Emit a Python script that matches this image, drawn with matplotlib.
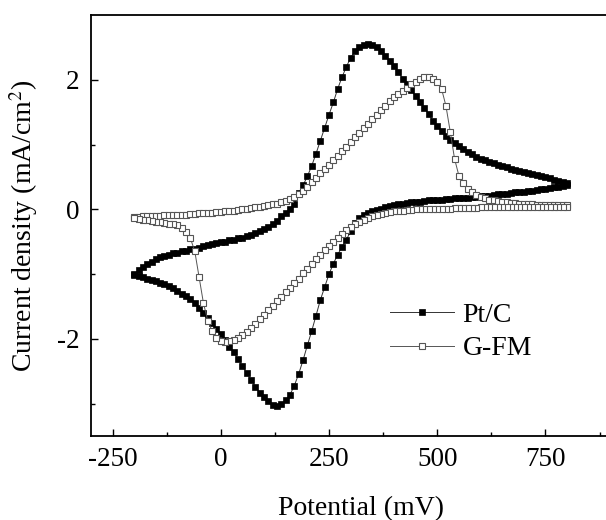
import matplotlib
matplotlib.use("Agg")
import matplotlib.pyplot as plt

plt.rcParams['font.family'] = ['Liberation Serif', 'DejaVu Serif']
plt.rcParams['mathtext.fontset'] = 'stix'
plt.rcParams['axes.unicode_minus'] = False

# sweep potentials (mV), -200 -> 800; the return sweep runs the same list backwards
potential = [-200, -190, -180, -170, -160, -150, -140, -130, -120, -110,
             -100, -90, -80, -70, -60, -50, -40, -30, -20, -10,
             0, 10, 20, 30, 40, 50, 60, 70, 80, 90,
             100, 110, 120, 130, 140, 150, 160, 170, 180, 190,
             200, 210, 220, 230, 240, 250, 260, 270, 280, 290,
             300, 310, 320, 330, 340, 350, 360, 370, 380, 390,
             400, 410, 420, 430, 440, 450, 460, 470, 480, 490,
             500, 510, 520, 530, 540, 550, 560, 570, 580, 590,
             600, 610, 620, 630, 640, 650, 660, 670, 680, 690,
             700, 710, 720, 730, 740, 750, 760, 770, 780, 790, 800]

# Pt/C, forward sweep (-200 -> 800)
ptc_fwd = [-1.00, -0.94, -0.89, -0.85, -0.81, -0.77, -0.74, -0.72, -0.70, -0.68,
           -0.67, -0.65, -0.64, -0.62, -0.61, -0.59, -0.57, -0.55, -0.54, -0.52,
           -0.51, -0.50, -0.48, -0.47, -0.45, -0.44, -0.41, -0.39, -0.36, -0.34,
           -0.30, -0.27, -0.22, -0.18, -0.11, -0.06, 0.01, 0.09, 0.25, 0.37,
           0.51, 0.67, 0.86, 1.06, 1.26, 1.46, 1.65, 1.86, 2.04, 2.20,
           2.34, 2.44, 2.51, 2.54, 2.55, 2.54, 2.51, 2.45, 2.37, 2.29,
           2.21, 2.12, 2.02, 1.93, 1.84, 1.75, 1.66, 1.57, 1.47, 1.37,
           1.29, 1.21, 1.13, 1.07, 1.02, 0.98, 0.93, 0.89, 0.85, 0.81,
           0.78, 0.76, 0.73, 0.71, 0.69, 0.67, 0.65, 0.63, 0.61, 0.59,
           0.57, 0.56, 0.54, 0.53, 0.51, 0.50, 0.48, 0.46, 0.44, 0.42, 0.40]

# Pt/C, reverse sweep (800 -> -200)
ptc_rev = [0.38, 0.36, 0.35, 0.34, 0.33, 0.32, 0.31, 0.30, 0.29, 0.28,
           0.27, 0.27, 0.26, 0.25, 0.24, 0.24, 0.23, 0.22, 0.21, 0.21,
           0.20, 0.19, 0.19, 0.18, 0.18, 0.17, 0.17, 0.16, 0.16, 0.15,
           0.15, 0.14, 0.14, 0.13, 0.12, 0.12, 0.11, 0.10, 0.09, 0.08,
           0.07, 0.05, 0.03, 0.01, -0.01, -0.03, -0.06, -0.09, -0.13, -0.21,
           -0.34, -0.47, -0.58, -0.70, -0.84, -1.00, -1.20, -1.40, -1.64, -1.88,
           -2.10, -2.33, -2.54, -2.72, -2.86, -2.95, -3.01, -3.03, -3.02, -2.96,
           -2.90, -2.83, -2.74, -2.63, -2.53, -2.42, -2.31, -2.21, -2.13, -2.02,
           -1.92, -1.84, -1.76, -1.68, -1.60, -1.52, -1.45, -1.39, -1.34, -1.30,
           -1.26, -1.22, -1.19, -1.16, -1.13, -1.11, -1.09, -1.07, -1.05, -1.03, -1.01]

# G-FM, forward sweep (-200 -> 800)
gfm_fwd = [-0.12, -0.12, -0.11, -0.11, -0.10, -0.10, -0.10, -0.09, -0.09, -0.09,
           -0.08, -0.08, -0.08, -0.07, -0.07, -0.06, -0.06, -0.05, -0.05, -0.04,
           -0.04, -0.03, -0.02, -0.02, -0.01, 0.00, 0.01, 0.02, 0.03, 0.04,
           0.05, 0.06, 0.08, 0.09, 0.11, 0.13, 0.16, 0.19, 0.23, 0.29,
           0.35, 0.42, 0.49, 0.56, 0.62, 0.69, 0.76, 0.83, 0.90, 0.97,
           1.04, 1.11, 1.18, 1.25, 1.32, 1.39, 1.46, 1.53, 1.60, 1.67,
           1.73, 1.78, 1.82, 1.87, 1.93, 1.97, 2.01, 2.04, 2.04, 2.02,
           1.97, 1.86, 1.60, 1.20, 0.78, 0.52, 0.40, 0.31, 0.26, 0.22,
           0.19, 0.17, 0.15, 0.14, 0.13, 0.12, 0.11, 0.10, 0.10, 0.09,
           0.09, 0.08, 0.08, 0.07, 0.07, 0.07, 0.06, 0.06, 0.06, 0.06, 0.06]

# G-FM, reverse sweep (800 -> -200)
gfm_rev = [0.04, 0.04, 0.04, 0.04, 0.04, 0.04, 0.04, 0.04, 0.04, 0.04,
           0.04, 0.03, 0.03, 0.03, 0.03, 0.03, 0.03, 0.03, 0.03, 0.03,
           0.03, 0.02, 0.02, 0.02, 0.02, 0.02, 0.02, 0.01, 0.01, 0.01,
           0.01, 0.01, 0.00, 0.00, 0.00, 0.00, -0.01, -0.01, -0.02, -0.02,
           -0.03, -0.04, -0.05, -0.07, -0.08, -0.10, -0.13, -0.16, -0.19, -0.23,
           -0.27, -0.32, -0.38, -0.44, -0.50, -0.56, -0.63, -0.70, -0.77, -0.85,
           -0.92, -0.99, -1.07, -1.14, -1.21, -1.28, -1.35, -1.42, -1.49, -1.56,
           -1.63, -1.70, -1.77, -1.83, -1.89, -1.94, -1.98, -2.02, -2.04, -2.05,
           -2.04, -1.98, -1.88, -1.72, -1.45, -1.05, -0.65, -0.45, -0.35, -0.29,
           -0.24, -0.23, -0.22, -0.21, -0.20, -0.19, -0.18, -0.17, -0.16, -0.15, -0.14]

labels = ['Pt/C', 'G-FM']

fig = plt.figure(figsize=(6.06, 5.2), dpi=100)
# right spine sits outside the picture, like in the original figure
ax = fig.add_axes([0.150, 0.1615, 0.893, 0.8096])

E = potential + potential[::-1]

ax.plot(E, ptc_fwd + ptc_rev, '-s', color='#333333', lw=0.7,
        ms=4.3, mfc='black', mec='black', mew=0.5, label=labels[0])
ax.plot(E, gfm_fwd + gfm_rev, '-s', color='#555555', lw=0.7,
        ms=4.0, mfc='white', mec='#555555', mew=0.8, label=labels[1])

ax.set_xlim(-300, 950)
ax.set_ylim(-3.5, 3.0)
ax.set_xticks([-250, 0, 250, 500, 750])
ax.set_xticks([-125, 125, 375, 625, 875], minor=True)
ax.set_yticks([-2, 0, 2])
ax.set_yticks([-3, -1, 1], minor=True)

ax.tick_params(which='both', direction='in', top=False, right=False,
               labelsize=19.5, pad=8)
ax.tick_params(which='major', length=5, width=1.0)
ax.tick_params(which='minor', length=3, width=1.0)
for s in ax.spines.values():
    s.set_linewidth(1.3)

ax.set_xlabel('Potential (mV)', fontsize=20, labelpad=17)
ax.set_ylabel('Current density (mA/cm$^2$)', fontsize=20, labelpad=12)

ax.legend(loc='upper left', bbox_to_anchor=(0.553, 0.318), frameon=False,
          fontsize=20, numpoints=1, handlelength=2.3, handletextpad=0.3,
          labelspacing=0.3, borderpad=0, borderaxespad=0)

fig.savefig('out.png', dpi=100)
